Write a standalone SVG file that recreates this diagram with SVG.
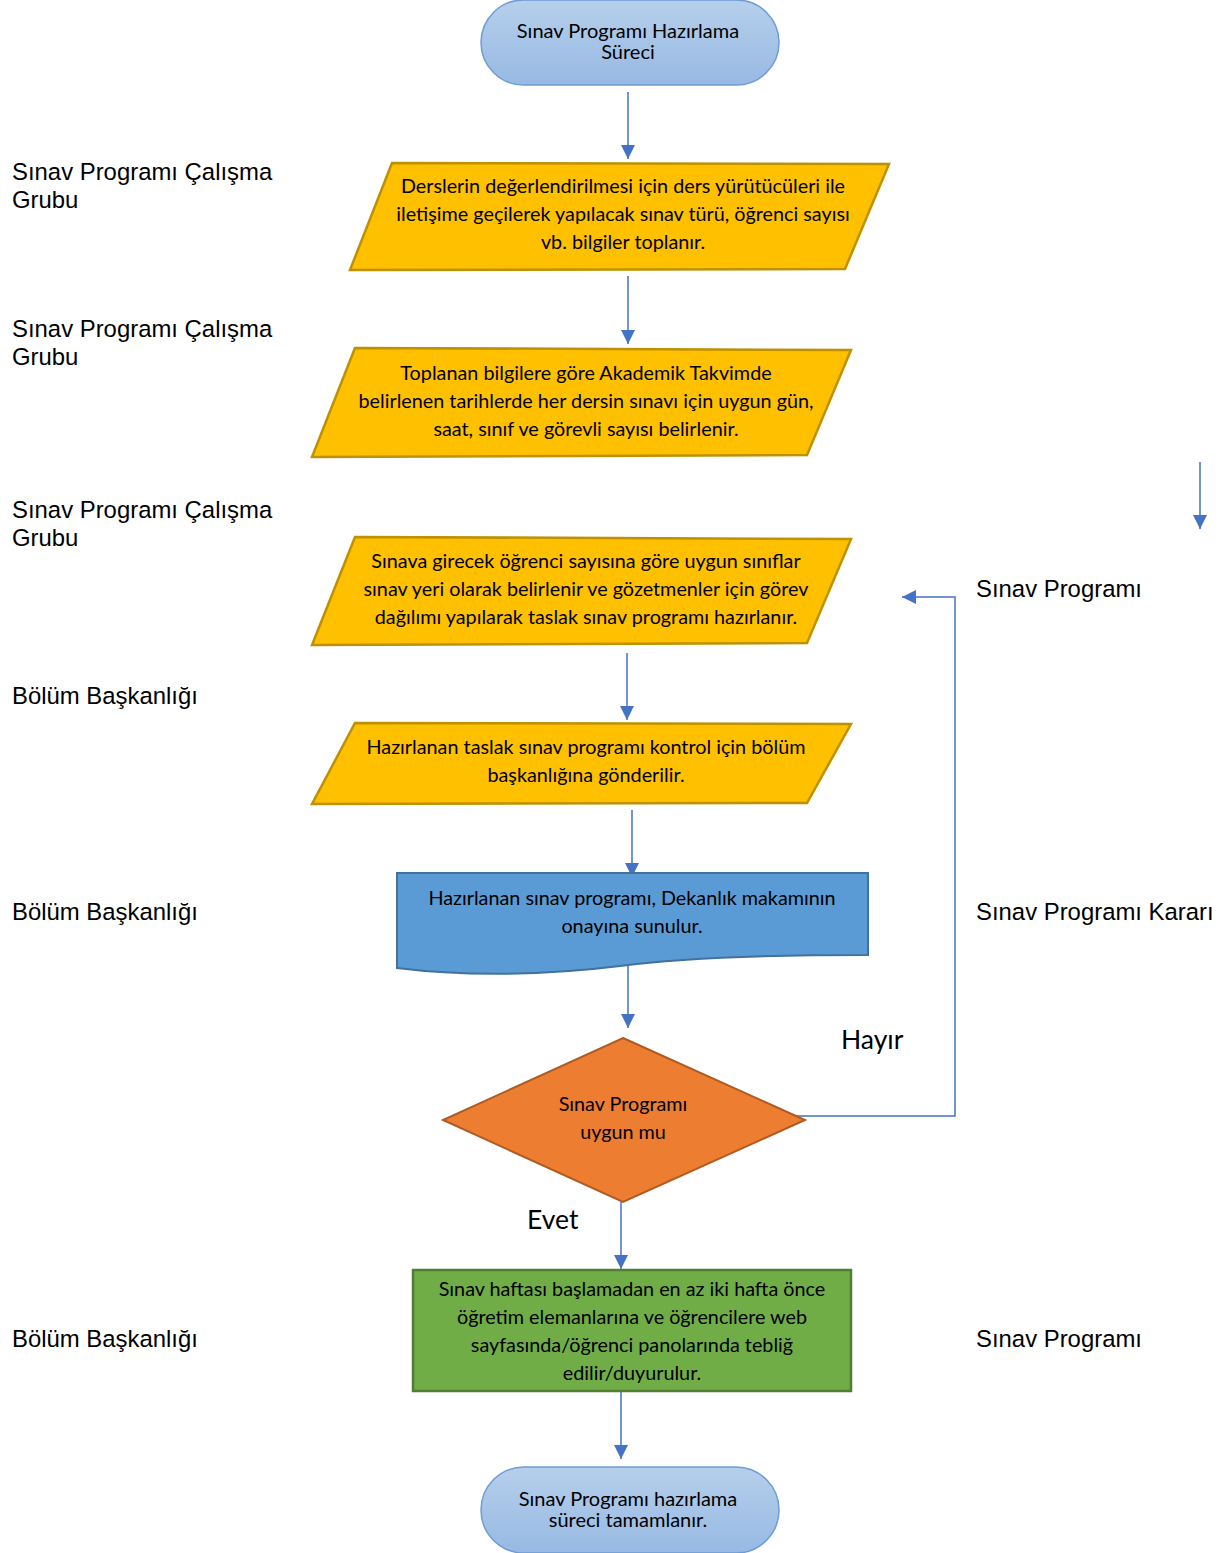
<svg xmlns="http://www.w3.org/2000/svg" width="1228" height="1553" viewBox="0 0 1228 1553">
<defs>
<linearGradient id="termGrad" x1="0" y1="0" x2="0" y2="1">
<stop offset="0" stop-color="#b6cfeb"/>
<stop offset="1" stop-color="#97b9e3"/>
</linearGradient>
<marker id="arr" markerWidth="16" markerHeight="16" refX="14" refY="7" orient="auto" markerUnits="userSpaceOnUse">
<path d="M0,0 L14,7 L0,14 Z" fill="#4472c4"/>
</marker>
</defs>
<style>
.term{fill:url(#termGrad);stroke:#6f9cd4;stroke-width:1.5}
.para{fill:#ffc000;stroke:#bf9000;stroke-width:2.5}
.doc{fill:#5b9bd5;stroke:#41719c;stroke-width:2}
.dec{fill:#ed7d31;stroke:#ae5a21;stroke-width:2}
.proc{fill:#70ad47;stroke:#507e32;stroke-width:2.5}
.t{font-family:Lato,"Open Sans","Liberation Sans",sans-serif;font-size:19.8px;fill:#000;text-anchor:middle}
.tt{font-family:Lato,"Open Sans","Liberation Sans",sans-serif;font-size:20px;fill:#000;text-anchor:middle}
.lbl{font-family:"Liberation Sans",Arial,sans-serif;font-size:23.9px;fill:#000}
.yn{font-family:Lato,"Open Sans","Liberation Sans",sans-serif;font-size:26.5px;fill:#000}
.c{fill:none;stroke:#4472c4;stroke-width:1.5}
.ca{fill:none;stroke:#4472c4;stroke-width:1.5;marker-end:url(#arr)}
</style>

<g id="side-labels">
<text class="lbl" x="12" y="180">Sınav Programı Çalışma</text>
<text class="lbl" x="12" y="208">Grubu</text>
<text class="lbl" x="12" y="337">Sınav Programı Çalışma</text>
<text class="lbl" x="12" y="365">Grubu</text>
<text class="lbl" x="12" y="518">Sınav Programı Çalışma</text>
<text class="lbl" x="12" y="546">Grubu</text>
<text class="lbl" x="12" y="704">Bölüm Başkanlığı</text>
<text class="lbl" x="12" y="920">Bölüm Başkanlığı</text>
<text class="lbl" x="12" y="1347">Bölüm Başkanlığı</text>
<text class="lbl" x="976" y="597">Sınav Programı</text>
<text class="lbl" x="976" y="920">Sınav Programı Kararı</text>
<text class="lbl" x="976" y="1347">Sınav Programı</text>
</g>

<g id="connectors">
<line class="ca" x1="628" y1="92" x2="628" y2="159"/>
<line class="ca" x1="628" y1="276" x2="628" y2="344"/>
<line class="ca" x1="1200" y1="462" x2="1200" y2="529"/>
<line class="ca" x1="627" y1="653" x2="627" y2="720"/>
<line class="ca" x1="632" y1="810" x2="632" y2="877"/>
<line class="ca" x1="628" y1="960" x2="628" y2="1028"/>
<polyline class="ca" points="795,1116 955,1116 955,597 902,597"/>
<line class="ca" x1="621" y1="1202" x2="621" y2="1269"/>
<line class="ca" x1="621" y1="1391" x2="621" y2="1459"/>
<text class="yn" x="841" y="1049">Hayır</text>
<text class="yn" x="527" y="1229">Evet</text>
</g>

<g id="start">
<rect class="term" x="481" y="0" width="298" height="85" rx="42.5" ry="42.5"/>
<text class="tt" x="628" y="38">Sınav Programı Hazırlama</text>
<text class="tt" x="628" y="59">Süreci</text>
</g>

<g id="step1">
<polygon class="para" points="392,163 889,164 845,269 350,270"/>
<text class="t" x="623" y="193">Derslerin değerlendirilmesi için ders yürütücüleri ile</text>
<text class="t" x="623" y="221">iletişime geçilerek yapılacak sınav türü, öğrenci sayısı</text>
<text class="t" x="623" y="249">vb. bilgiler toplanır.</text>
</g>

<g id="step2">
<polygon class="para" points="355,348 851,350 807,455 312,457"/>
<text class="t" x="586" y="380">Toplanan bilgilere göre Akademik Takvimde</text>
<text class="t" x="586" y="408">belirlenen tarihlerde her dersin sınavı için uygun gün,</text>
<text class="t" x="586" y="436">saat, sınıf ve görevli sayısı belirlenir.</text>
</g>

<g id="step3">
<polygon class="para" points="355,537 851,539 807,643 312,645"/>
<text class="t" x="586" y="568">Sınava girecek öğrenci sayısına göre uygun sınıflar</text>
<text class="t" x="586" y="596">sınav yeri olarak belirlenir ve gözetmenler için görev</text>
<text class="t" x="586" y="624">dağılımı yapılarak taslak sınav programı hazırlanır.</text>
</g>

<g id="step4">
<polygon class="para" points="355,723 851,724 807,803 312,804"/>
<text class="t" x="586" y="754">Hazırlanan taslak sınav programı kontrol için bölüm</text>
<text class="t" x="586" y="782">başkanlığına gönderilir.</text>
</g>

<g id="step5">
<path class="doc" d="M397,873 L868,873 L868,955 C760,955 680,958 620,966 C540,976 460,976 397,968 Z"/>
<text class="t" x="632" y="905">Hazırlanan sınav programı, Dekanlık makamının</text>
<text class="t" x="632" y="933">onayına sunulur.</text>
</g>

<g id="decision">
<polygon class="dec" points="623,1038 805,1120 623,1202 443,1120"/>
<text class="t" x="623" y="1111">Sınav Programı</text>
<text class="t" x="623" y="1139">uygun mu</text>
</g>

<g id="step6">
<rect class="proc" x="413" y="1270" width="438" height="121"/>
<text class="t" x="632" y="1296">Sınav haftası başlamadan en az iki hafta önce</text>
<text class="t" x="632" y="1324">öğretim elemanlarına ve öğrencilere web</text>
<text class="t" x="632" y="1352">sayfasında/öğrenci panolarında tebliğ</text>
<text class="t" x="632" y="1380">edilir/duyurulur.</text>
</g>

<g id="end">
<rect class="term" x="481" y="1467" width="298" height="86" rx="43" ry="43"/>
<text class="tt" x="628" y="1506">Sınav Programı hazırlama</text>
<text class="tt" x="628" y="1527">süreci tamamlanır.</text>
</g>
</svg>
